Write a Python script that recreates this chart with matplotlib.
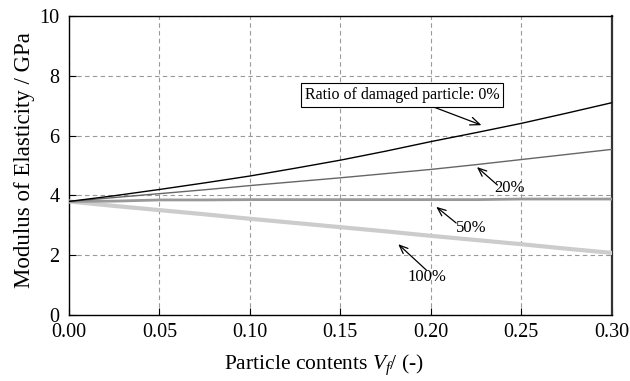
#!/usr/bin/env python3

import matplotlib
matplotlib.use('Agg')
import matplotlib.pyplot as plt

# Particle contents V_f (-)
vf = [0.00, 0.025, 0.05, 0.075, 0.10, 0.125, 0.15, 0.175, 0.20, 0.225, 0.25, 0.275, 0.30]

# Modulus of elasticity (GPa) per ratio of damaged particle
e_0 = [3.80, 3.99, 4.20, 4.42, 4.65, 4.91, 5.18, 5.48, 5.80, 6.10, 6.41, 6.75, 7.10]
e_20 = [3.80, 3.93, 4.06, 4.19, 4.33, 4.46, 4.59, 4.73, 4.87, 5.03, 5.20, 5.37, 5.54]
e_50 = [3.80, 3.81, 3.85, 3.85, 3.86, 3.86, 3.86, 3.86, 3.86, 3.86, 3.88, 3.88, 3.88]
e_100 = [3.80, 3.65, 3.51, 3.37, 3.22, 3.08, 2.94, 2.80, 2.65, 2.51, 2.37, 2.22, 2.08]

x_ticks = [0.00, 0.05, 0.10, 0.15, 0.20, 0.25, 0.30]
y_ticks = [0, 2, 4, 6, 8, 10]


def main():
    plt.rcParams['font.family'] = ['Liberation Serif', 'DejaVu Serif']
    plt.rcParams['mathtext.fontset'] = 'custom'
    plt.rcParams['mathtext.it'] = 'Liberation Serif:italic'
    plt.rcParams['mathtext.rm'] = 'Liberation Serif'

    fig = plt.figure(figsize=(6.3, 3.81), dpi=100)
    ax = fig.add_axes([0.1095, 0.173, 0.8615, 0.785])

    ax.plot(vf, e_100, color='#cccccc', lw=3.0, zorder=3)
    ax.plot(vf, e_50, color='#999999', lw=2.0, zorder=3)
    ax.plot(vf, e_20, color='#666666', lw=1.0, zorder=3)
    ax.plot(vf, e_0, color='black', lw=1.0, zorder=3)

    ax.set_xlim(0, 0.30)
    ax.set_ylim(0, 10)
    ax.set_xticks(x_ticks)
    ax.set_xticklabels(['%.2f' % v for v in x_ticks])
    ax.set_yticks(y_ticks)
    ax.tick_params(direction='in', labelsize=14.5, length=5, width=0.8,
                   top=False, right=False)
    ax.tick_params(axis='x', pad=6)
    ax.tick_params(axis='y', pad=7)
    ax.grid(True, ls=(0, (4, 3)), color='#999999', lw=0.8)

    for s in ['left', 'bottom', 'top']:
        ax.spines[s].set_linewidth(1.0)
    ax.spines['right'].set_linewidth(1.6)
    ax.spines['right'].set_color('#333333')

    ax.set_xlabel('Particle contents $V_f$/ (-)', fontsize=15.5)
    ax.xaxis.set_label_coords(0.47, -0.125)
    ax.set_ylabel('Modulus of Elasticity / GPa', fontsize=16.5)
    ax.yaxis.set_label_coords(-0.063, 0.52)

    arrow = dict(arrowstyle='->,head_length=0.6,head_width=0.25', color='black',
                 lw=0.9, shrinkA=0, shrinkB=0)
    ax.annotate('Ratio of damaged particle: 0%', xy=(0.228, 6.35), xytext=(0.184, 7.36),
                fontsize=11.5, ha='center', va='center',
                bbox=dict(boxstyle='square,pad=0.25', fc='white', ec='black', lw=0.8),
                arrowprops=arrow)
    ax.annotate('', xy=(0.2255, 4.95), xytext=(0.2368, 4.35), arrowprops=arrow)
    ax.text(0.2436, 4.25, '20%', fontsize=12, ha='center', va='center')
    ax.annotate('', xy=(0.203, 3.62), xytext=(0.214, 3.08), arrowprops=arrow)
    ax.text(0.2225, 2.91, '50%', fontsize=12, ha='center', va='center')
    ax.annotate('', xy=(0.182, 2.37), xytext=(0.1976, 1.5), arrowprops=arrow)
    ax.text(0.1976, 1.26, '100%', fontsize=12, ha='center', va='center')

    fig.savefig('out.png', dpi=100)


if __name__ == '__main__':
    main()
